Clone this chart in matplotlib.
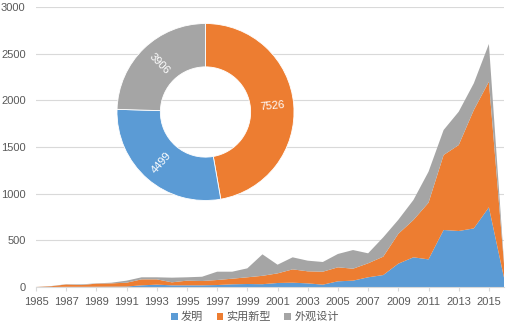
import numpy as np
import matplotlib
matplotlib.use("Agg")
import matplotlib.pyplot as plt
from matplotlib.patches import Patch

plt.rcParams['font.family'] = ['Liberation Sans', 'Noto Sans CJK SC', 'DejaVu Sans']

years = list(range(1985, 2017))
invention = [0, 0, 2, 2, 3, 4, 5, 18, 25, 18, 18, 18, 21, 29, 32, 30,
             43, 46, 39, 25, 61, 68, 104, 128, 250, 318, 296, 611, 600, 628, 854, 100]
utility = [0, 8, 25, 19, 33, 35, 41, 64, 57, 32, 50, 46, 54, 60, 72, 90,
           103, 143, 129, 139, 150, 128, 150, 197, 320, 400, 607, 803, 921, 1268, 1346, 150]
design = [0, 2, 3, 7, 3, 7, 22, 22, 22, 50, 36, 46, 89, 75, 96, 230,
          93, 129, 114, 104, 143, 200, 107, 207, 150, 214, 332, 268, 357, 286, 404, 20]

series_names = ['发明', '实用新型', '外观设计']
pie_labels = ['实用新型', '发明', '外观设计']
pie_values = [7526, 4499, 3906]

c_blue = '#5B9BD5'
c_orange = '#ED7D31'
c_gray = '#A5A5A5'
text_c = '#595959'
grid_c = '#D9D9D9'
colors = {'发明': c_blue, '实用新型': c_orange, '外观设计': c_gray}

fig = plt.figure(figsize=(5.10, 3.26), dpi=100)
ax = fig.add_axes([36/510, 1-287/326, 468/510, 280/326])
ax.stackplot(years, invention, utility, design,
             colors=[c_blue, c_orange, c_gray], linewidth=0)
ax.set_xlim(1985, 2016)
ax.set_ylim(0, 3000)
ax.set_yticks(np.arange(0, 3001, 500))
ax.set_xticks(list(range(1985, 2016, 2)))
ax.grid(axis='y', color=grid_c, linewidth=0.8)
ax.set_axisbelow(True)
for s in ['top', 'right', 'left']:
    ax.spines[s].set_visible(False)
ax.spines['bottom'].set_color(grid_c)
ax.spines['bottom'].set_linewidth(0.8)
ax.tick_params(axis='y', length=0, pad=7.5, labelsize=8, labelcolor=text_c)
ax.tick_params(axis='x', length=3, width=0.8, color=grid_c, pad=4,
               labelsize=8, labelcolor=text_c)

handles = [Patch(facecolor=colors[n], edgecolor='none') for n in series_names]
fig.legend(handles, series_names, loc='center', bbox_to_anchor=(0.5, 1-317/326),
           ncol=3, frameon=False, fontsize=8, labelcolor=text_c,
           handlelength=0.6, handleheight=0.6, handletextpad=0.3, columnspacing=1.2)

# donut
pax = fig.add_axes([117/510, 1-200.5/326, 177/510, 177/326])
pcolors = [colors[n] for n in pie_labels]
wedges, _ = pax.pie(pie_values, colors=pcolors, startangle=90, counterclock=False,
                    radius=1.0, wedgeprops=dict(width=0.49, edgecolor='white', linewidth=0.6))
pax.set_xlim(-1, 1)
pax.set_ylim(-1, 1)
pax.set_aspect('equal')
total = sum(pie_values)
cum = 0
for v in pie_values:
    mid = 90 - (cum + v / 2) / total * 360
    cum += v
    r = 0.755
    x = r * np.cos(np.radians(mid))
    y = r * np.sin(np.radians(mid))
    rot = ((mid + 90) % 180) - 90
    pax.text(x, y, str(v), color='white', fontsize=8, rotation=rot,
             ha='center', va='center', rotation_mode='anchor')

fig.savefig('out.png', dpi=100)
